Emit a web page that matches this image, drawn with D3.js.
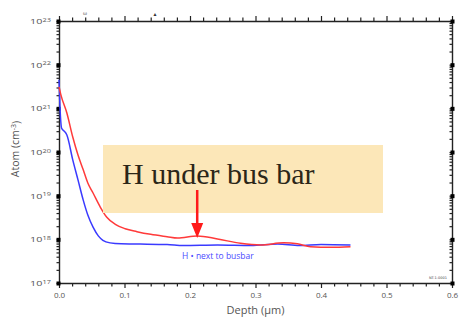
<!DOCTYPE html>
<html>
<head>
<meta charset="utf-8">
<script src="https://cdn.jsdelivr.net/npm/d3@7"></script>
<style>
  body { margin: 0; background: #fff; }
  svg { display: block; }
  .tick text { font-family: "Open Sans", sans-serif; fill: #555; }
</style>
</head>
<body>
<svg id="chart"></svg>
<script>
var width = 459, height = 320;

// SIMS depth profiles
var redDepth = [0.000, 0.003, 0.012, 0.021, 0.029, 0.037, 0.044, 0.052, 0.063, 0.073, 0.086, 0.101, 0.119, 0.140, 0.165, 0.181, 0.211, 0.242, 0.277, 0.308, 0.343, 0.364, 0.384, 0.415, 0.445];
var redConc = [3.1e21, 2.0e21, 7.8e20, 2.2e20, 8.5e19, 3.9e19, 1.95e19, 1.15e19, 5.5e18, 3.2e18, 2.2e18, 1.75e18, 1.5e18, 1.3e18, 1.15e18, 1.07e18, 1.2e18, 1.02e18, 8.1e17, 7.4e17, 8.3e17, 7.9e17, 6.8e17, 6.6e17, 6.8e17];

var blueDepth = [0.000, 0.0015, 0.004, 0.009, 0.012, 0.021, 0.029, 0.037, 0.044, 0.052, 0.060, 0.067, 0.078, 0.095, 0.124, 0.165, 0.190, 0.242, 0.293, 0.334, 0.367, 0.400, 0.445];
var blueConc = [4.5e21, 1.07e21, 3.5e20, 2.9e20, 2.45e20, 6.6e19, 2.3e19, 7.9e18, 3.6e18, 1.9e18, 1.2e18, 9.5e17, 8.3e17, 7.9e17, 7.8e17, 7.6e17, 7.2e17, 7.4e17, 7.2e17, 7.8e17, 7.2e17, 7.6e17, 7.4e17];

var xTicks = d3.range(0, 31).map(function(i) { return i * 0.02; });
var xLabels = [0, 0.1, 0.2, 0.3, 0.4, 0.5, 0.6];
var decades = [17, 18, 19, 20, 21, 22, 23];

var svg = d3.select("#chart")
    .attr("width", width)
    .attr("height", height);

var x = d3.scaleLinear().domain([0, 0.6]).range([59, 452]);
var y = d3.scaleLog().domain([1e17, 1e23]).range([283, 21]);

// minor tick values of log axis
var yTicks = [];
decades.forEach(function(e) {
    for (var m = 1; m < 10; m++) {
        if (e == 23 && m > 1) break;
        yTicks.push(m * Math.pow(10, e));
    }
});

function isLabel(v) {
    return xLabels.some(function(l) { return Math.abs(l - v) < 1e-6; });
}
function isDecade(v) {
    var l = Math.log10(v);
    return Math.abs(l - Math.round(l)) < 1e-6;
}

// bottom axis
var gx = svg.append("g")
    .attr("transform", `translate(0,${y.range()[0]})`)
    .call(d3.axisBottom(x).tickValues(xTicks).tickSize(3).tickSizeOuter(0)
        .tickFormat(function(d) { return isLabel(d) ? d.toFixed(1) : ""; }));
gx.selectAll(".tick line").attr("y2", function(d) { return isLabel(d) ? 5 : 3.5; });
gx.selectAll(".tick text").attr("y", 7).attr("dy", "0.95em").style("font-size", "8px");

// top axis
var gt = svg.append("g")
    .attr("transform", `translate(0,${y.range()[1]})`)
    .call(d3.axisTop(x).tickValues(xTicks).tickSize(3).tickSizeOuter(0).tickFormat(""));
gt.selectAll(".tick line").attr("y2", function(d) { return isLabel(d) ? -5 : -3.5; });

// left axis
var gy = svg.append("g")
    .attr("transform", `translate(${x.range()[0]},0)`)
    .call(d3.axisLeft(y).tickValues(yTicks).tickSize(2.5).tickSizeOuter(0).tickFormat(""));
gy.selectAll(".tick")
    .filter(function(d) { return isDecade(d); })
    .each(function(d) {
        var g = d3.select(this);
        g.append("rect").attr("x", -2.5).attr("y", -2).attr("width", 4).attr("height", 4).attr("fill", "#000");
        var t = g.select("text")
            .attr("x", -6).attr("dy", "0.32em")
            .attr("transform", "scale(1.35,1)")
            .style("font-size", "8px").text("10");
        t.append("tspan").attr("dy", "-0.45em").style("font-size", "5.5px").text(Math.round(Math.log10(d)));
    });

// right axis
var gr = svg.append("g")
    .attr("transform", `translate(${x.range()[1]},0)`)
    .call(d3.axisLeft(y).tickValues(yTicks).tickSize(2.5).tickSizeOuter(0).tickFormat(""));
gr.selectAll(".tick")
    .filter(function(d) { return isDecade(d); })
    .append("rect").attr("x", -1.5).attr("y", -2).attr("width", 4).attr("height", 4).attr("fill", "#000");

svg.selectAll(".domain").attr("stroke", "#222").attr("stroke-width", 1.4);
svg.selectAll(".tick line").attr("stroke", "#222").attr("stroke-width", 1.2);

// axis titles
svg.append("text")
    .attr("x", (x.range()[0] + x.range()[1]) / 2)
    .attr("y", 314)
    .attr("text-anchor", "middle")
    .style("font-family", "Open Sans, sans-serif")
    .style("font-size", "11px")
    .attr("fill", "#555")
    .text("Depth (\u00b5m)");

var yt = svg.append("text")
    .attr("transform", `translate(19,${(y.range()[0] + y.range()[1]) / 2 - 3}) rotate(-90)`)
    .attr("text-anchor", "middle")
    .style("font-family", "Open Sans, sans-serif")
    .style("font-size", "10.5px")
    .attr("fill", "#555")
    .text("Atom (cm");
yt.append("tspan").attr("dy", "-0.4em").style("font-size", "7px").text("-3");
yt.append("tspan").attr("dy", "0.4em").text(")");

// tiny id mark bottom right
svg.append("text")
    .attr("x", 447).attr("y", 279)
    .attr("text-anchor", "end")
    .style("font-family", "DejaVu Sans, sans-serif")
    .style("font-size", "3.5px")
    .attr("fill", "#444")
    .text("NT-1-0001");

// faint marks above top axis
svg.append("text").attr("x", 85).attr("y", 15).attr("text-anchor", "middle")
    .style("font-size", "6px").attr("fill", "#666").text("\u03c9");
svg.append("text").attr("x", 155).attr("y", 16).attr("text-anchor", "middle")
    .style("font-size", "5px").attr("fill", "#333").text("\u25b2");

// profiles
var line = d3.line()
    .x(function(d) { return x(d[0]); })
    .y(function(d) { return y(d[1]); })
    .curve(d3.curveMonotoneX);

var redData = d3.zip(redDepth, redConc);
var blueData = d3.zip(blueDepth, blueConc);

svg.append("path")
    .datum(blueData)
    .attr("d", line)
    .attr("fill", "none")
    .attr("stroke", "#3a3aff")
    .attr("stroke-width", 1.5);

svg.append("path")
    .datum(redData)
    .attr("d", line)
    .attr("fill", "none")
    .attr("stroke", "#ff3a3a")
    .attr("stroke-width", 1.5);

// blue label
svg.append("text")
    .attr("x", 182).attr("y", 259)
    .style("font-family", "Open Sans, sans-serif")
    .style("font-size", "8.5px")
    .attr("fill", "#4a4aff")
    .text("H \u2022 next to busbar");

// annotation box
svg.append("rect")
    .attr("x", 103).attr("y", 145)
    .attr("width", 280).attr("height", 68)
    .attr("fill", "#fce7b8");

svg.append("text")
    .attr("x", 122).attr("y", 184)
    .style("font-family", "Liberation Serif, serif")
    .style("font-size", "30px")
    .attr("fill", "#2b2618")
    .text("H under bus bar");

// red arrow
var ax = x(0.211);
svg.append("line")
    .attr("x1", ax).attr("y1", 190)
    .attr("x2", ax).attr("y2", 225)
    .attr("stroke", "#ff1a1a")
    .attr("stroke-width", 2.5);
svg.append("path")
    .attr("d", `M${ax - 6},223 L${ax + 6},223 L${ax},238 Z`)
    .attr("fill", "#ff1a1a");
</script>
</body>
</html>
